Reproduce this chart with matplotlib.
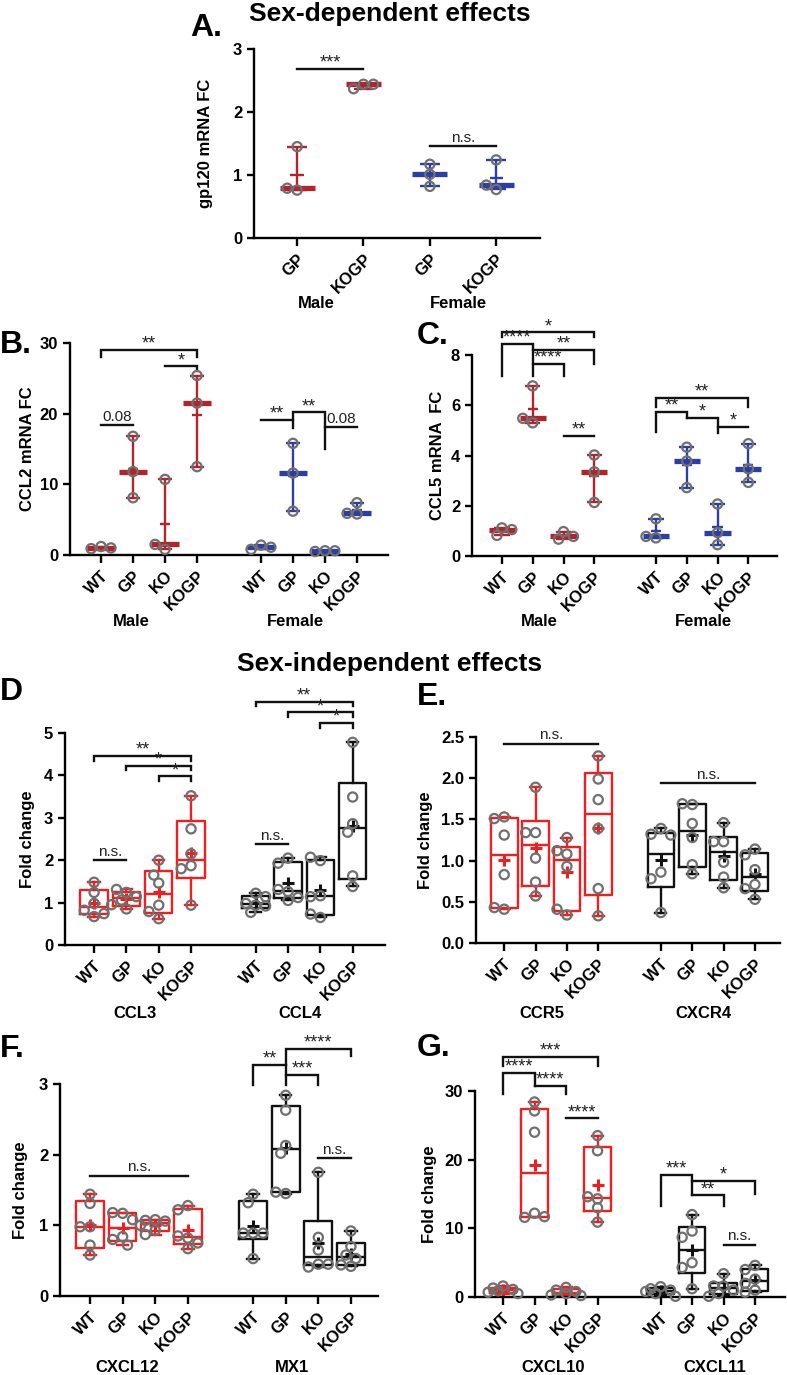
import numpy as np
import matplotlib.pyplot as plt

plt.rcParams['font.family'] = ['Liberation Sans', 'DejaVu Sans']
plt.rcParams['font.weight'] = 'bold'

W, H = 787, 1375
DARKRED = '#b3232b'
BLUE = '#2b3ea6'
RED = '#f01e1e'
BLACK = '#111111'
GRAY = '#707070'

groups = ['WT', 'GP', 'KO', 'KOGP']
pos8 = [0, 1, 2, 3, 5, 6, 7, 8]

# ---- data ----
gp120_labels = ['GP', 'KOGP', 'GP', 'KOGP']
gp120 = [[0.76, 0.79, 1.45], [2.44, 2.37, 2.44], [1.17, 1.01, 0.82], [1.24, 0.77, 0.84]]

ccl2 = [[1.2, 0.9, 1.0], [16.8, 11.8, 8.1], [10.7, 0.8, 1.5], [25.4, 21.5, 12.5],
        [1.4, 0.8, 1.1], [15.8, 11.6, 6.2], [0.6, 0.5, 0.6], [7.4, 5.8, 5.9]]
ccl5 = [[1.12, 0.82, 1.05], [6.77, 5.3, 5.48], [0.97, 0.67, 0.78], [4.02, 3.35, 2.13],
        [1.48, 0.72, 0.78], [4.33, 3.78, 2.72], [2.07, 0.45, 0.93], [4.47, 3.47, 2.93]]

ccl3 = [[1.48, 1.24, 0.98, 0.82, 0.67, 0.74], [1.24, 1.06, 1.14, 1.31, 0.85, 0.95],
        [2.0, 1.46, 1.65, 0.94, 0.79, 0.62], [3.52, 2.74, 2.15, 1.87, 1.80, 0.94]]
ccl4 = [[1.22, 0.94, 0.77, 0.98, 0.92, 1.14], [2.05, 1.93, 1.26, 1.31, 1.05, 1.12],
        [1.99, 2.07, 1.16, 1.14, 0.65, 0.73], [4.78, 3.49, 2.86, 2.66, 1.63, 1.38]]
ccr5 = [[1.53, 1.51, 1.31, 0.83, 0.41, 0.43], [1.89, 1.34, 1.34, 1.03, 0.74, 0.57],
        [1.28, 1.08, 1.12, 0.93, 0.34, 0.41], [2.27, 1.99, 1.74, 1.39, 0.66, 0.33]]
cxcr4 = [[1.39, 1.32, 1.31, 0.86, 0.78, 0.37], [1.68, 1.69, 1.45, 1.28, 0.84, 0.95],
         [1.46, 1.23, 1.23, 0.98, 0.80, 0.67], [1.14, 1.07, 0.89, 0.71, 0.66, 0.53]]
cxcl12 = [[1.44, 1.31, 0.98, 0.98, 0.72, 0.58], [1.17, 1.18, 1.08, 0.84, 0.80, 0.72],
          [1.08, 1.07, 1.06, 1.0, 0.93, 0.87], [1.28, 1.22, 0.82, 0.85, 0.75, 0.67]]
mx1 = [[1.44, 1.32, 0.89, 0.89, 0.89, 0.53], [2.84, 2.63, 2.13, 2.02, 1.45, 1.47],
       [1.75, 0.83, 0.65, 0.45, 0.41, 0.45], [0.92, 0.70, 0.58, 0.53, 0.42, 0.44]]
cxcl10 = [[1.6, 1.3, 1.1, 0.9, 0.7, 0.5], [28.4, 27.1, 24.0, 12.2, 11.6, 11.7],
          [1.4, 1.0, 0.8, 0.5, 0.3, 0.2], [23.5, 21.3, 14.3, 14.6, 13.0, 10.9]]
cxcl11 = [[1.5, 1.2, 1.0, 0.8, 0.5, 0.1], [12.0, 9.6, 8.7, 5.0, 4.3, 1.2],
          [3.4, 1.6, 1.6, 1.0, 0.5, 0.1], [4.6, 4.0, 2.6, 2.0, 1.0, 0.7]]

# significance marks: (x1, x2, y, text, left drop, right drop)
sig_a = [(0, 1, 2.68, '***', 0, 0), (2, 3, 1.46, 'n.s.', 0, 0)]
sig_b = [(0, 3, 29.0, '**', 1.0, 1.0), (2, 3, 26.7, '*', 0, 0.7), (0, 1, 18.4, '0.08', 0, 0),
         (5, 6, 19.1, '**', 0, 0), (6, 7, 20.2, '**', 2.2, 5.2), (7, 8, 18.1, '0.08', 0, 0)]
sig_c = [(0, 3, 8.9, '*', 0.2, 0.2), (0, 1, 8.44, '****', 1.28, 1.28), (1, 3, 8.2, '**', 0, 0.56),
         (1, 2, 7.64, '****', 0, 0.48), (2, 3, 4.78, '**', 0, 0),
         (5, 8, 6.29, '**', 0.36, 0.36), (5, 6, 5.73, '**', 0.8, 0.24), (6, 7, 5.49, '*', 0, 0.59),
         (7, 8, 5.13, '*', 0, 0)]
sig_d = [(0, 3, 4.46, '**', 0.11, 0.11), (1, 3, 4.23, '*', 0.11, 0.11), (2, 3, 3.98, '*', 0.12, 0.12),
         (0, 1, 2.0, 'n.s.', 0, 0), (5, 8, 5.74, '**', 0.11, 0.11), (6, 8, 5.49, '*', 0.11, 0.11),
         (7, 8, 5.24, '*', 0.12, 0.12), (5, 6, 2.38, 'n.s.', 0, 0)]
sig_e = [(0, 3, 2.42, 'n.s.', 0, 0), (5, 8, 1.94, 'n.s.', 0, 0)]
sig_f = [(0, 3, 1.70, 'n.s.', 0, 0), (6, 8, 3.5, '****', 0.51, 0.1), (5, 6, 3.27, '**', 0.28, 0),
         (6, 7, 3.13, '***', 0, 0.14), (7, 8, 1.95, 'n.s.', 0, 0)]
sig_g = [(0, 3, 35.0, '***', 1.3, 1.3), (0, 1, 32.6, '****', 3.0, 1.9), (1, 2, 30.8, '****', 0, 1.2),
         (2, 3, 26.0, '****', 0, 0), (5, 6, 17.8, '***', 4.5, 3.0), (6, 8, 16.9, '*', 0, 1.9),
         (6, 7, 14.8, '**', 0, 1.6), (7, 8, 7.6, 'n.s.', 0, 0)]

fig = plt.figure(figsize=(W / 100, H / 100), dpi=100)


def add_ax(l, r, t, b, xlim, ylim):
    ax = fig.add_axes([l / W, 1 - b / H, (r - l) / W, (b - t) / H])
    ax.set_xlim(*xlim)
    ax.set_ylim(*ylim)
    for s in ['top', 'right']:
        ax.spines[s].set_visible(False)
    for s in ['left', 'bottom']:
        ax.spines[s].set_linewidth(1.7)
    ax.tick_params(axis='both', width=1.7, length=5, labelsize=12)
    ax.tick_params(axis='x', length=6)
    return ax


def swarm(ax, x, vals, diam=9.0):
    # simple beeswarm in pixel space, at most 7 slots wide
    tr = ax.transData
    px_per_x = tr.transform((1, 0))[0] - tr.transform((0, 0))[0]
    placed = []
    xs = []
    for v in vals:
        yp = tr.transform((x, v))[1]
        best, best_d = 0.0, -1.0
        for k in [0, -1, 1, -2, 2, -3, 3]:
            xp = k * diam * 0.55
            d = min([np.hypot(xp - a, yp - b) for a, b in placed] + [1e9])
            if d >= diam * 0.95:
                best = xp
                break
            if d > best_d:
                best, best_d = xp, d
        placed.append((best, yp))
        xs.append(x + best / px_per_x)
    ax.scatter(xs, vals, s=44, facecolors='none', edgecolors=GRAY, linewidths=1.6,
               zorder=5, clip_on=False)


def med_range(ax, x, vals, color, bar_w, cap_w):
    v = np.asarray(vals)
    ax.vlines(x, v.min(), v.max(), color=color, lw=1.7, zorder=3)
    ax.hlines([v.min(), v.max()], x - cap_w / 2, x + cap_w / 2, color=color, lw=1.7, zorder=3)
    ax.hlines(np.median(v), x - bar_w / 2, x + bar_w / 2, color=color, lw=3.8, zorder=3)
    ax.hlines(v.mean(), x - cap_w / 3, x + cap_w / 3, color=color, lw=1.7, zorder=3)
    swarm(ax, x, vals)


def boxes(ax, data, positions, color):
    stats = []
    for vals in data:
        v = np.asarray(vals)
        q1, med, q3 = np.percentile(v, [25, 50, 75], method='weibull')
        stats.append(dict(med=med, q1=q1, q3=q3, whislo=v.min(), whishi=v.max(),
                          mean=v.mean(), fliers=[]))
    ax.bxp(stats, positions=positions, widths=0.85, showmeans=True, showfliers=False,
           capwidths=0.35, manage_ticks=False,
           boxprops=dict(color=color, lw=1.7), whiskerprops=dict(color=color, lw=1.7),
           capprops=dict(color=color, lw=1.7), medianprops=dict(color=color, lw=1.7),
           meanprops=dict(marker='+', markeredgecolor=color, markersize=8, mew=2.2))
    for x, vals in zip(positions, data):
        swarm(ax, x, vals)


def brackets(ax, sigs):
    for x1, x2, y, txt, ld, rd in sigs:
        ax.plot([x1, x1, x2, x2], [y - ld, y, y, y - rd], color=BLACK, lw=1.7,
                clip_on=False, solid_joinstyle='miter')
        star = txt.startswith('*')
        ax.annotate(txt, ((x1 + x2) / 2, y), xytext=(0, -2 if star else 1),
                    textcoords='offset points', ha='center', va='bottom',
                    fontsize=13 if star else 11, fontweight='normal',
                    color='#222222', annotation_clip=False)


def xlabels(ax, positions, labels):
    ax.set_xticks(positions)
    ax.set_xticklabels(labels, rotation=45, ha='right', rotation_mode='anchor', fontsize=12)


def ylabel(ax, txt, xpx, left, right):
    ax.set_ylabel(txt, fontsize=12, fontweight='bold')
    ax.yaxis.set_label_coords((xpx - left) / (right - left), 0.5)


def ftext(x, y, s, size, **kw):
    fig.text(x / W, 1 - y / H, s, fontsize=size, fontweight='bold', **kw)


# ---- panel A ----
axA = add_ax(254, 540, 49, 238, (-0.65, 3.66), (0, 3))
for i, vals in enumerate(gp120):
    med_range(axA, i, vals, DARKRED if i < 2 else BLUE, 0.53, 0.3)
axA.set_yticks([0, 1, 2, 3])
xlabels(axA, range(4), gp120_labels)
ylabel(axA, 'gp120 mRNA FC', 213, 254, 540)
brackets(axA, sig_a)

# ---- panel B ----
axB = add_ax(70, 388, 343, 555, (-0.97, 8.97), (0, 30))
for x, vals in zip(pos8, ccl2):
    med_range(axB, x, vals, DARKRED if x < 4 else BLUE, 0.85, 0.45)
axB.set_yticks([0, 10, 20, 30])
xlabels(axB, pos8, groups * 2)
ylabel(axB, 'CCL2 mRNA FC', 35, 70, 388)
brackets(axB, sig_b)

# ---- panel C ----
axC = add_ax(472, 777, 355, 556, (-0.97, 8.93), (0, 8))
for x, vals in zip(pos8, ccl5):
    med_range(axC, x, vals, DARKRED if x < 4 else BLUE, 0.85, 0.5)
axC.set_yticks([0, 2, 4, 6, 8])
xlabels(axC, pos8, groups * 2)
ylabel(axC, 'CCL5 mRNA  FC', 445, 472, 777)
brackets(axC, sig_c)

# ---- panels D-G ----
axD = add_ax(65, 385, 733, 945, (-0.9, 9.0), (0, 5))
boxes(axD, ccl3, pos8[:4], RED)
boxes(axD, ccl4, pos8[4:], BLACK)
axD.set_yticks(range(6))
xlabels(axD, pos8, groups * 2)
ylabel(axD, 'Fold change', 35, 65, 385)
brackets(axD, sig_d)

axE = add_ax(476, 780, 737, 943, (-0.9, 8.8), (0, 2.5))
boxes(axE, ccr5, pos8[:4], RED)
boxes(axE, cxcr4, pos8[4:], BLACK)
axE.set_yticks([0, 0.5, 1.0, 1.5, 2.0, 2.5])
axE.set_yticklabels(['0.0', '0.5', '1.0', '1.5', '2.0', '2.5'])
xlabels(axE, pos8, groups * 2)
ylabel(axE, 'Fold change', 433, 476, 780)
brackets(axE, sig_e)

axF = add_ax(60, 378, 1084, 1296, (-0.92, 8.83), (0, 3))
boxes(axF, cxcl12, pos8[:4], RED)
boxes(axF, mx1, pos8[4:], BLACK)
axF.set_yticks([0, 1, 2, 3])
xlabels(axF, pos8, groups * 2)
ylabel(axF, 'Fold change', 28, 60, 378)
brackets(axF, sig_f)

axG = add_ax(475, 785, 1091, 1297, (-0.89, 8.95), (0, 30))
boxes(axG, cxcl10, pos8[:4], RED)
boxes(axG, cxcl11, pos8[4:], BLACK)
axG.set_yticks([0, 10, 20, 30])
xlabels(axG, pos8, groups * 2)
ylabel(axG, 'Fold change', 437, 475, 785)
brackets(axG, sig_g)

# ---- titles, letters, group labels ----
ftext(390, 14, 'Sex-dependent effects', 19, ha='center', va='center')
ftext(390, 664, 'Sex-independent effects', 19, ha='center', va='center')
for letter, x, y in [('A.', 190, 28), ('B.', 0, 345), ('C.', 417, 336), ('D', 0, 692),
                     ('E.', 417, 697), ('F.', 0, 1049), ('G.', 417, 1048)]:
    ftext(x, y, letter, 23, ha='left', va='center')

for s, x, y in [('Male', 316, 304), ('Female', 458, 304),
                ('Male', 131, 621), ('Female', 295, 621), ('Male', 539, 621), ('Female', 703, 621),
                ('CCL3', 135, 1013), ('CCL4', 300, 1013), ('CCR5', 542, 1013), ('CXCR4', 703, 1013),
                ('CXCL12', 127, 1367), ('MX1', 292, 1367), ('CXCL10', 553, 1368), ('CXCL11', 715, 1368)]:
    ftext(x, y, s, 12, ha='center', va='center')

fig.savefig('out.png', dpi=100)
